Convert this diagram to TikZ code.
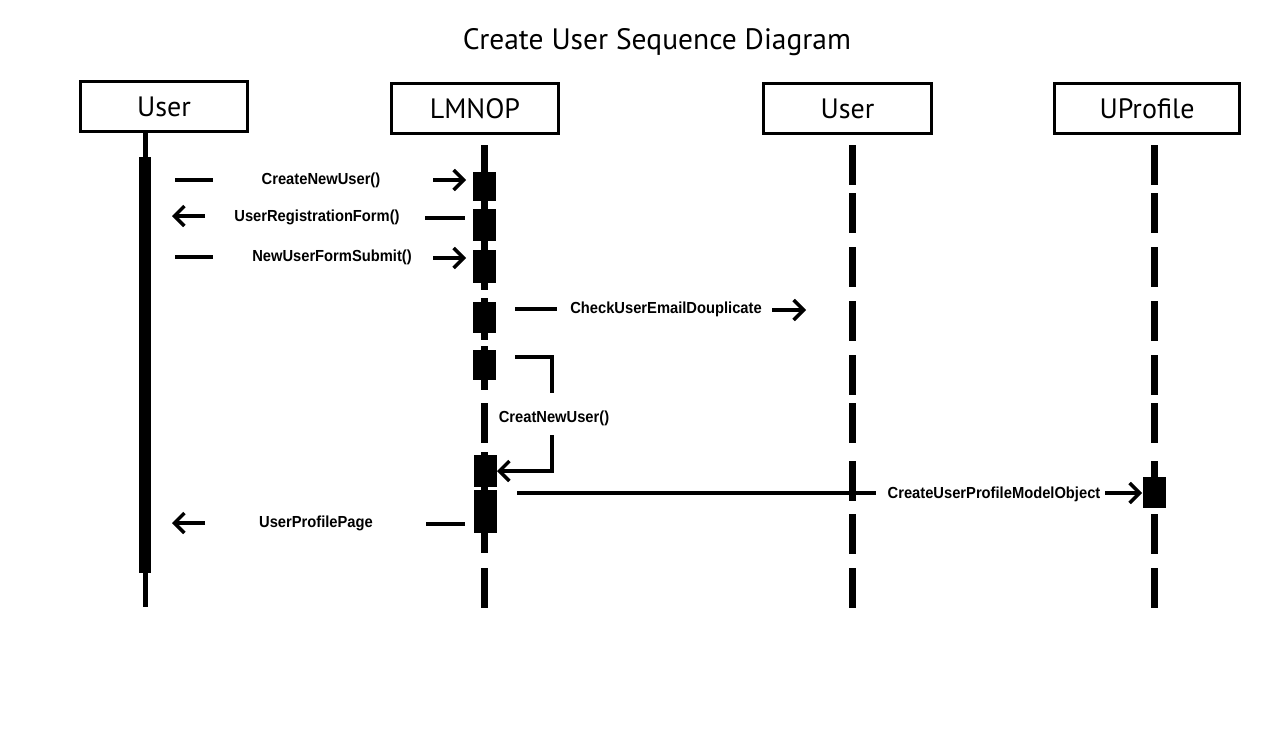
\documentclass[tikz,border=0pt]{standalone}
\usepackage{fontspec}
\setmainfont{PT Sans}
\newfontfamily\lab[FakeStretch=0.92]{Liberation Sans}
\usetikzlibrary{arrows.meta}
\begin{document}
\begin{tikzpicture}[x=1pt,y=-1pt,
  obj/.style={draw, line width=3pt, minimum height=50pt, inner sep=0pt, font=\fontsize{28}{32}\selectfont},
  act/.style={fill=black, draw=none, minimum width=23pt, inner sep=0pt},
  msg/.style={line width=4.5pt},
  arr/.style={line width=4.5pt, -{Straight Barb[length=10pt,width=20pt,line width=3.5pt]}},
  lbl/.style={font=\lab\bfseries\fontsize{16}{18}\selectfont, inner sep=0pt},
  life/.style={line width=7pt}]
\useasboundingbox (0,0) rectangle (1276,750);

% title
\node[font=\fontsize{29.5}{34}\selectfont] (title) at (657,42) {Create User Sequence Diagram};

% objects
\node[obj, minimum width=167pt] (u1) at (164,106.5) {User};
\node[obj, minimum width=167pt] (lm) at (475,108.5) {LMNOP};
\node[obj, minimum width=168pt] (u2) at (847.5,108.5) {User};
\node[obj, minimum width=185pt] (up) at (1147,108.5) {UProfile};

% User lifeline
\draw[line width=5pt] (145,133) -- (145,607);
\node[act, minimum width=12pt, minimum height=416pt] (ua) at (145,365) {};

% dashed lifelines for User2 and UProfile
\foreach \a/\b in {145/185,193/233,247/287,301/341,355/395,403/443,461/501,514/554,568/608}{
  \draw[life] (852,\a) -- (852,\b);
  \draw[life] (1154,\a) -- (1154,\b);
}
% LMNOP lifeline
\foreach \a/\b in {145/290,298/340,346/390,403/443,452/553,568/608}{
  \draw[life] (484.5,\a) -- (484.5,\b);
}
% activations on LMNOP
\node[act, minimum height=29pt] (a1) at (484.5,186.5) {};
\node[act, minimum height=32pt] (a2) at (484.5,225) {};
\node[act, minimum height=33pt] (a3) at (484.5,266.5) {};
\node[act, minimum height=31pt] (a4) at (484.5,317.5) {};
\node[act, minimum height=30pt] (a5) at (484.5,365) {};
\node[act, minimum height=32pt] (a6) at (485,471) {};
\node[act, minimum height=43pt] (a7) at (485,511.5) {};
% activation on UProfile
\node[act, minimum height=31pt] (pa) at (1154.5,492.5) {};

% message 1
\draw[msg] (175,180) -- (213,180);
\node[lbl] (m1) at (321,180) {CreateNewUser()};
\draw[arr] (433,180) -- (466,180);

% message 2
\draw[arr] (205,216) -- (172,216);
\node[lbl] (m2) at (317,217) {UserRegistrationForm()};
\draw[msg] (425,218) -- (465,218);

% message 3
\draw[msg] (175,257) -- (213,257);
\node[lbl] (m3) at (332,257) {NewUserFormSubmit()};
\draw[arr] (433,258) -- (466,258);

% message 4
\draw[msg] (515,309) -- (557,309);
\node[lbl] (m4) at (666,309) {CheckUserEmailDouplicate};
\draw[arr] (772,310) -- (806,310);

% message 5 (self call)
\draw[msg, line join=miter] (515,357) -| (552,393);
\node[lbl] (m5) at (554,418) {CreatNewUser()};
\draw[arr, line join=miter] (552,435) |- (497,471);

% message 6
\draw[msg] (517,493) -- (876,493);
\node[lbl] (m6) at (994,494) {CreateUserProfileModelObject};
\draw[arr] (1105,493) -- (1142,493);

% message 7
\draw[arr] (205,523) -- (172,523);
\node[lbl] (m7) at (316,523) {UserProfilePage};
\draw[msg] (426,524) -- (465,524);
\end{tikzpicture}
\end{document}
